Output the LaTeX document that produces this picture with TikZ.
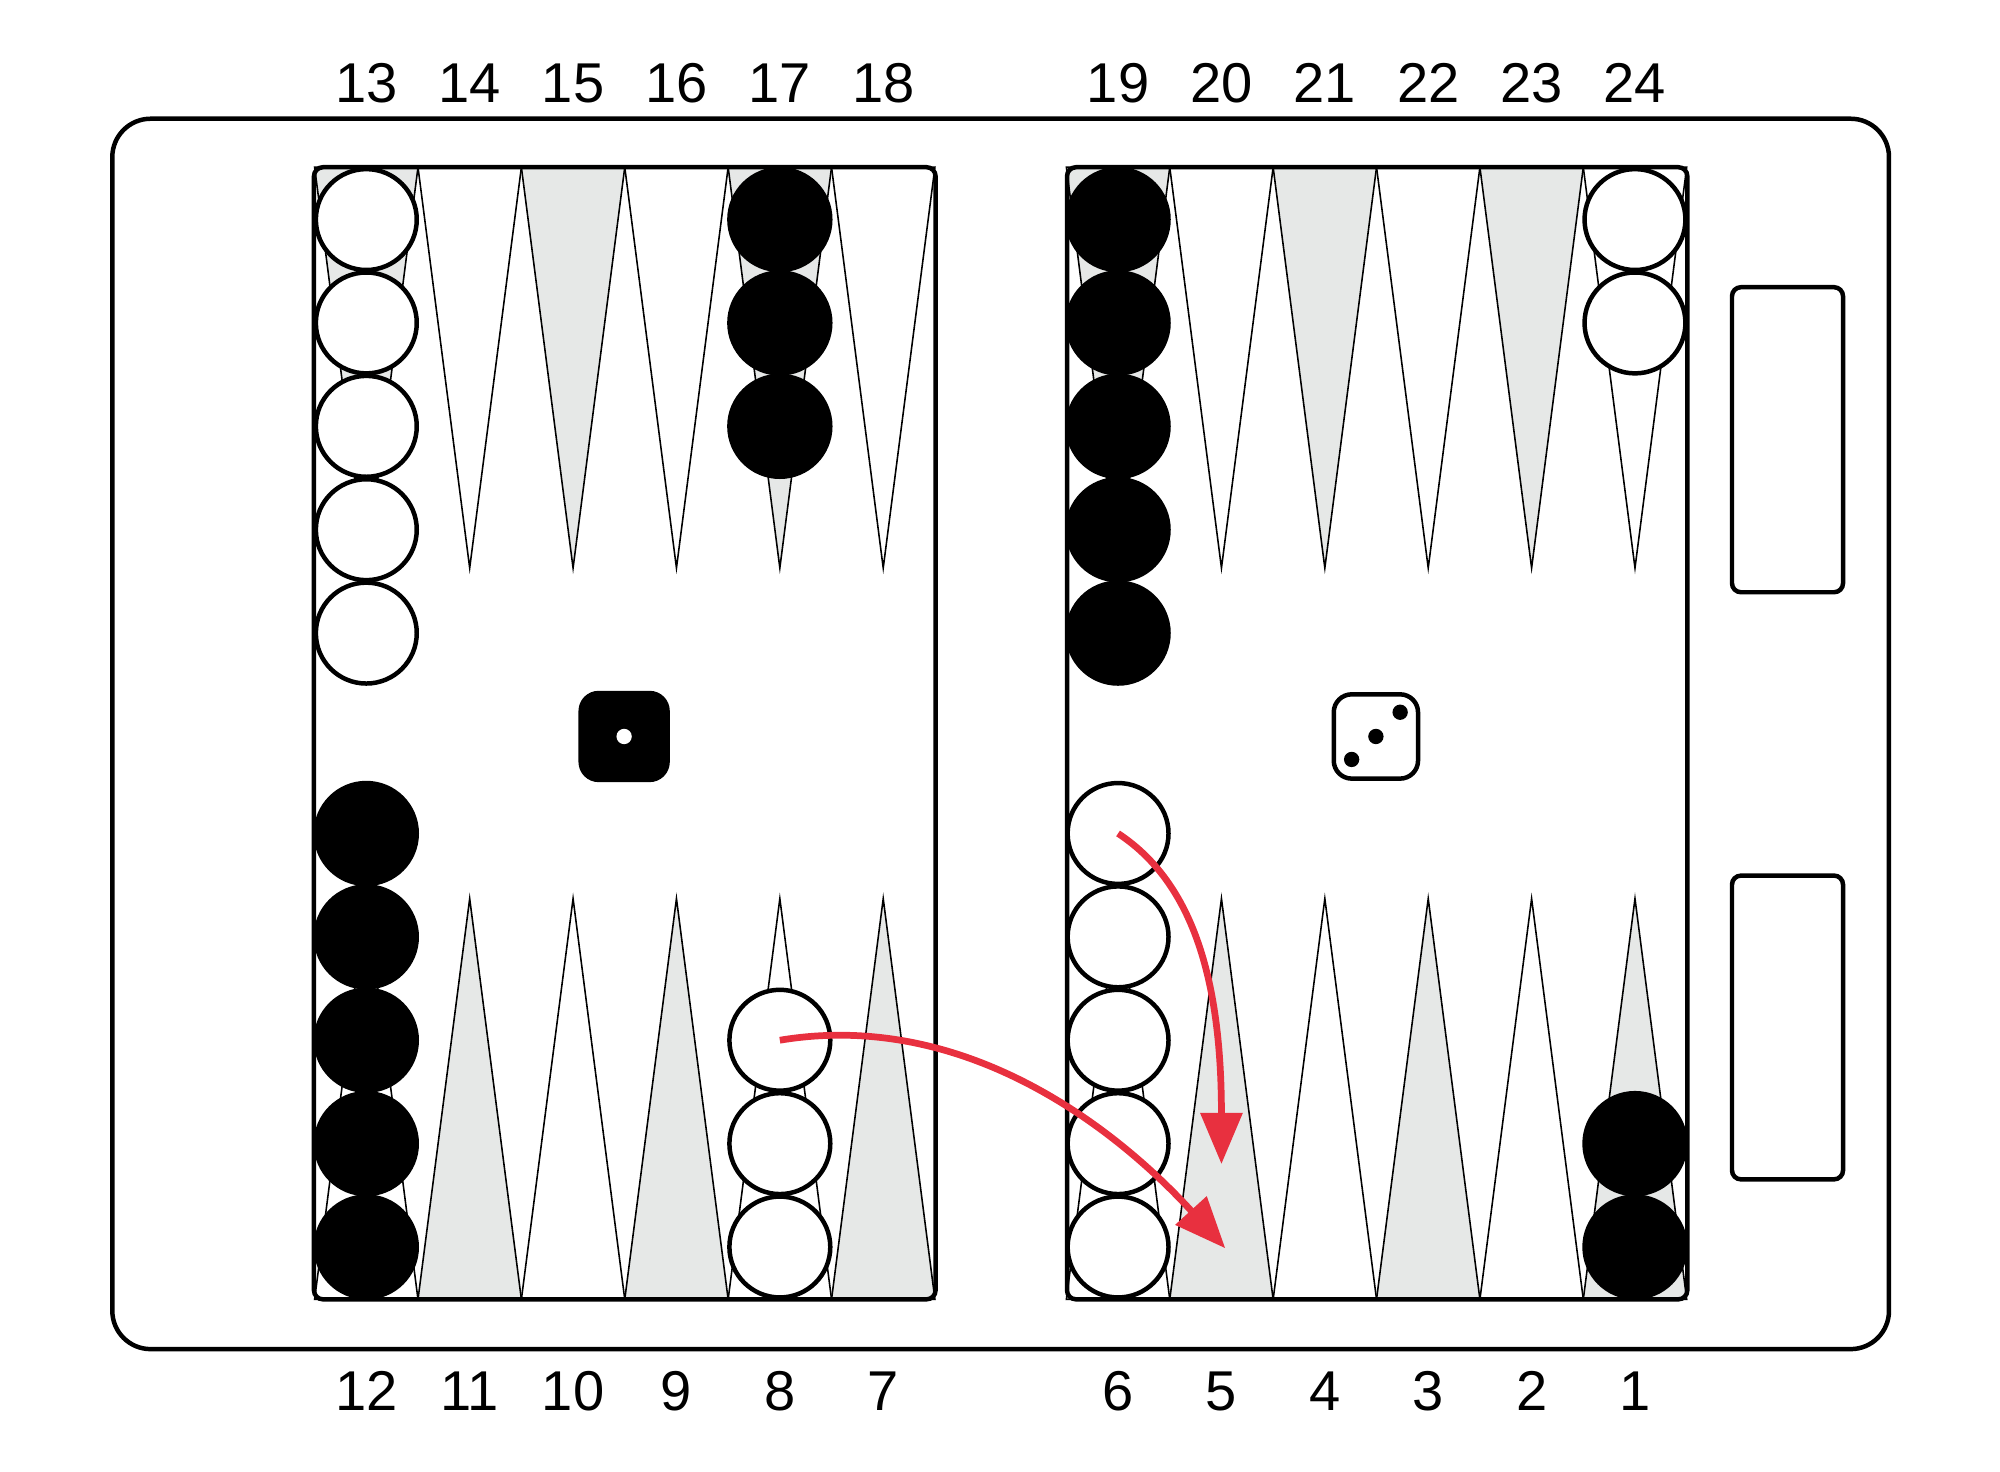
\documentclass[tikz,border=0pt]{standalone}
\usepackage{fontspec}
\setmainfont{Liberation Sans}
\usetikzlibrary{arrows.meta}
\definecolor{pointgray}{HTML}{E6E8E7}
\definecolor{movered}{HTML}{E8303F}
\tikzset{
  frame/.style={draw,line width=1pt,rounded corners=2pt},
  point/.style={draw,line width=.35pt},
  wchk/.style={draw,circle,line width=1pt,fill=white,minimum size=0.79cm,inner sep=0pt},
  bchk/.style={draw,circle,line width=1pt,fill=black,minimum size=0.79cm,inner sep=0pt},
  pip/.style={circle,inner sep=0pt,minimum size=0.12cm},
  num/.style={font=\fontsize{12.5}{12.5}\selectfont},
  move/.style={draw=movered,line width=1.5pt,-{Triangle[length=0.4cm,width=0.32cm]}}
}
\begin{document}
\begin{tikzpicture}[x=0.01cm,y=-0.01cm]
\useasboundingbox (0,0) rectangle (1567,1153);

% board
\draw[line width=1pt,rounded corners=0.3cm] (88,93) rectangle (1480,1057);
\draw[frame] (1357,225) rectangle (1444,464);
\draw[frame] (1357,686) rectangle (1444,924);

% points
\foreach \c [count=\i] in {287,368,449,530,611,692,876,957,1038,1119,1200,1281}{
  \pgfmathsetmacro{\top}{ifthenelse(mod(\i,2)==1,"pointgray","white")}
  \pgfmathsetmacro{\bot}{ifthenelse(mod(\i,2)==0,"pointgray","white")}
  \filldraw[point,fill=\top] (\c-40.5,131) -- (\c,445) -- (\c+40.5,131) -- cycle;
  \filldraw[point,fill=\bot] (\c-40.5,1018) -- (\c,704) -- (\c+40.5,1018) -- cycle;
}
\draw[frame] (246,131) rectangle (733,1018);
\draw[frame] (836,131) rectangle (1322,1018);

% labels
\foreach \c/\t/\b in {287/13/12,368/14/11,449/15/10,530/16/9,611/17/8,692/18/7,
  876/19/6,957/20/5,1038/21/4,1119/22/3,1200/23/2,1281/24/1}{
  \node[num] (t\t) at (\c,65) {\t};
  \node[num] (b\b) at (\c,1090) {\b};
}

% checkers
\foreach \y in {172,253,334,415,496} \node[wchk] at (287,\y) {};
\foreach \y in {172,253,334} \node[bchk] at (611,\y) {};
\foreach \y in {977,896,815,734,653} \node[bchk] at (287,\y) {};
\foreach \y in {977,896} \node[wchk] at (611,\y) {};
\node[wchk] (w8) at (611,815) {};
\foreach \y in {172,253,334,415,496} \node[bchk] at (876,\y) {};
\foreach \y in {172,253} \node[wchk] at (1281,\y) {};
\foreach \y in {977,896,815,734} \node[wchk] at (876,\y) {};
\node[wchk] (w6) at (876,653) {};
\foreach \y in {977,896} \node[bchk] at (1281,\y) {};

% dice
\node[draw,fill=black,rounded corners=4pt,minimum size=0.68cm,line width=1pt] (die1) at (489,577) {};
\node[pip,fill=white] at (die1) {};
\node[draw,fill=white,rounded corners=4pt,minimum size=0.66cm,line width=1pt] (die3) at (1078,577) {};
\node[pip,fill=black] at (1059,595) {};
\node[pip,fill=black] at (1078,577) {};
\node[pip,fill=black] at (1097,558) {};

% moves
\coordinate (e8) at (960,978);
\coordinate (e6) at (957,912);
\draw[move] (w8.center) .. controls (760,790) and (880,890) .. (e8);
\draw[move] (w6.center) .. controls (940,695) and (957,780) .. (e6);
\end{tikzpicture}
\end{document}
